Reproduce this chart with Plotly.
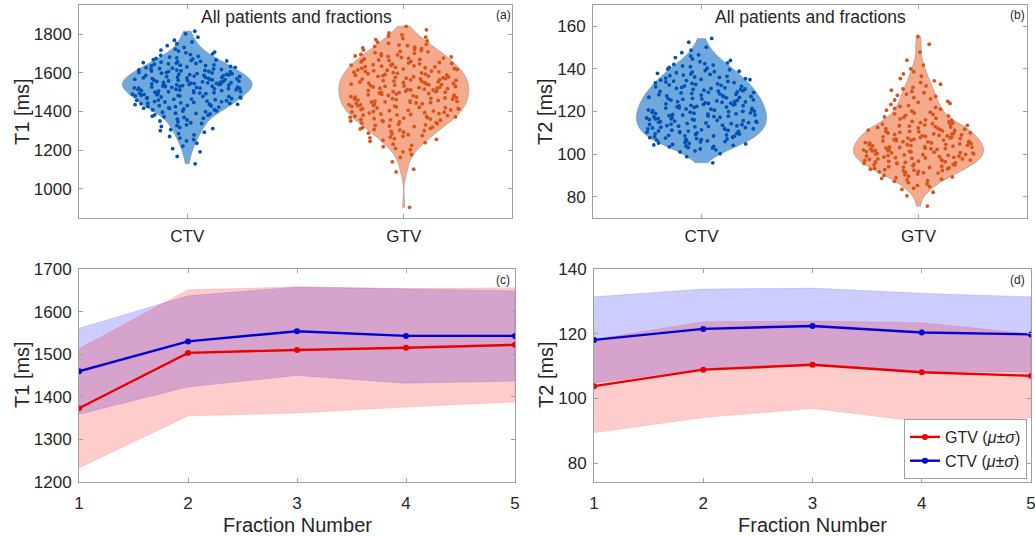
import plotly.graph_objects as go

W, H = 1035, 537

# ---------------- data ----------------
categories = ["CTV", "GTV"]

ctv_t1 = [1130, 1168,
          1192, 1208, 1221,
          1236, 1248, 1255, 1263, 1271,
          1279, 1286, 1293, 1301, 1306, 1312, 1318, 1323,
          1327, 1331, 1338, 1342, 1347, 1351, 1356, 1360, 1365, 1369, 1373,
          1376, 1381, 1383, 1388, 1390, 1391, 1396, 1399, 1402, 1403, 1408, 1409, 1413, 1416, 1417, 1420, 1423, 1425,
          1426, 1428, 1430, 1431, 1433, 1435, 1437, 1438, 1440, 1442, 1443, 1445, 1447, 1449, 1450, 1452, 1454, 1456,
          1457, 1459, 1461, 1463, 1464, 1466, 1468, 1470, 1472, 1474,
          1475, 1477, 1478, 1480, 1481, 1483, 1484, 1486, 1488, 1489, 1491, 1492, 1494, 1495, 1497, 1498, 1500, 1502,
          1503, 1505, 1506, 1508, 1509, 1511, 1512, 1514, 1515, 1517, 1518, 1519, 1520, 1521, 1522, 1523, 1524,
          1525, 1526, 1527, 1528, 1530, 1531, 1532, 1534, 1535, 1536, 1538, 1539, 1540, 1541, 1543, 1544, 1545, 1547,
          1548, 1549, 1550, 1552, 1553, 1554, 1555, 1557, 1558, 1559, 1561, 1562, 1563, 1565, 1566, 1567, 1569, 1570,
          1571, 1573, 1574,
          1575, 1577, 1578, 1580, 1581, 1583, 1584, 1586, 1587, 1589, 1590, 1592, 1593, 1595, 1596, 1598, 1599, 1601,
          1602, 1604, 1606, 1607, 1609, 1610, 1612, 1614, 1615, 1617, 1619, 1620, 1622, 1624,
          1626, 1628, 1630, 1633, 1635, 1637, 1639, 1641, 1644, 1646, 1648, 1650, 1652, 1655, 1657, 1659, 1661, 1664,
          1666, 1668, 1671, 1674,
          1677, 1681, 1685, 1690, 1694, 1698, 1703, 1707, 1712, 1717, 1722,
          1731, 1740, 1750, 1759, 1768,
          1784, 1801, 1815]

gtv_t1 = [905, 1088, 1102, 1140,
          1163, 1178, 1192,
          1203, 1210, 1218, 1225, 1231, 1239, 1246,
          1252, 1256, 1260, 1264, 1268, 1272, 1276, 1280, 1284, 1288, 1293, 1297,
          1301, 1304, 1307, 1310, 1313, 1316, 1319, 1322, 1325, 1328, 1331, 1334, 1337, 1340, 1343, 1346, 1349,
          1351, 1353, 1355, 1357, 1359, 1361, 1363, 1366, 1368, 1370, 1372, 1374, 1376, 1379, 1381, 1383, 1385, 1387,
          1389, 1392, 1394, 1396, 1398,
          1400, 1402, 1404, 1406, 1408, 1410, 1412, 1414, 1416, 1418, 1420, 1422, 1424, 1426, 1428, 1430, 1432, 1434,
          1436, 1438, 1440, 1442, 1444, 1446, 1447, 1449,
          1450, 1452, 1454, 1455, 1457, 1459, 1461, 1463, 1464, 1466, 1468, 1470, 1472, 1474, 1475, 1477, 1479, 1481,
          1483, 1485, 1487, 1489, 1491, 1493, 1495, 1497, 1499,
          1500, 1502, 1503, 1505, 1507, 1509, 1511, 1512, 1514, 1516, 1518, 1520, 1521, 1523, 1525, 1527, 1529, 1530,
          1532, 1534, 1536, 1538, 1539, 1541, 1543, 1545, 1547, 1549,
          1550, 1552, 1554, 1556, 1557, 1559, 1561, 1563, 1565, 1567, 1568, 1570, 1572, 1574, 1576, 1578, 1580, 1581,
          1583, 1585, 1587, 1589, 1591, 1593, 1595, 1597, 1599,
          1601, 1603, 1605, 1607, 1609, 1611, 1613, 1615, 1617, 1619, 1621, 1623, 1626, 1628, 1630, 1632, 1634, 1636,
          1638, 1640, 1642, 1644, 1646, 1648,
          1651, 1653, 1656, 1658, 1661, 1663, 1666, 1669, 1671, 1674, 1676, 1679, 1682, 1684, 1687, 1689, 1692, 1695,
          1698,
          1701, 1704, 1708, 1711, 1715, 1718, 1722, 1725, 1729, 1732, 1736, 1740, 1743, 1747,
          1752, 1758, 1765, 1771, 1777, 1784, 1790, 1796,
          1806, 1822, 1840]

ctv_t2 = [95.9, 98.8,
          100.2, 101.0, 101.5, 102.0, 102.4, 102.9,
          103.1, 103.4, 103.6, 103.8, 104.1, 104.3, 104.5, 104.8, 105.0, 105.2, 105.5, 105.7, 105.9, 106.2, 106.4,
          106.6, 106.8, 106.9,
          107.1, 107.3, 107.5, 107.7, 107.9, 108.1, 108.3, 108.5, 108.6, 108.8, 109.0, 109.2, 109.4, 109.5, 109.7,
          109.9, 110.1, 110.3, 110.5, 110.6, 110.8, 110.9,
          111.1, 111.2, 111.4, 111.6, 111.8, 111.9, 112.1, 112.3, 112.4, 112.6, 112.8, 112.9, 113.1, 113.3, 113.4,
          113.6, 113.8, 113.9, 114.1, 114.3, 114.4, 114.6, 114.8, 114.9,
          115.0, 115.2, 115.4, 115.5, 115.7, 115.8, 116.0, 116.2, 116.3, 116.5, 116.6, 116.8, 117.0, 117.1, 117.3,
          117.5, 117.6, 117.8, 117.9, 118.1, 118.3, 118.4, 118.6, 118.7, 118.9,
          119.1, 119.2, 119.4, 119.6, 119.7, 119.9, 120.1, 120.2, 120.4, 120.6, 120.7, 120.9, 121.1, 121.2, 121.4,
          121.6, 121.7, 121.9, 122.1, 122.2, 122.4, 122.6, 122.7, 122.9,
          123.1, 123.3, 123.4, 123.6, 123.8, 123.9, 124.1, 124.3, 124.5, 124.6, 124.8, 125.0, 125.2, 125.3, 125.5,
          125.7, 125.9, 126.0, 126.2, 126.4, 126.6, 126.7, 126.9,
          127.1, 127.3, 127.5, 127.7, 127.9, 128.1, 128.3, 128.5, 128.7, 128.9, 129.0, 129.2, 129.4, 129.6, 129.8,
          130.0, 130.2, 130.4, 130.6, 130.8, 130.9,
          131.1, 131.3, 131.6, 131.8, 132.0, 132.3, 132.5, 132.7, 133.0, 133.2, 133.4, 133.6, 133.9, 134.1, 134.3,
          134.5, 134.7, 134.9,
          135.1, 135.4, 135.7, 136.0, 136.2, 136.5, 136.8, 137.1, 137.4, 137.6, 137.9, 138.2, 138.5, 138.7, 138.9,
          139.2, 139.6, 139.9, 140.3, 140.7, 141.0, 141.4, 141.8, 142.1, 142.5, 142.8,
          143.4, 144.0, 144.7, 145.3, 146.0, 146.6,
          147.6, 148.8, 150.2,
          152.5, 154.3]

gtv_t2 = [75.6,
          80.4, 82.1,
          83.4, 84.0, 84.7, 85.3, 86.0, 86.6,
          87.2, 87.5, 87.9, 88.2, 88.6, 88.9, 89.3, 89.6, 90.0, 90.3, 90.7,
          91.1, 91.3, 91.5, 91.7, 91.9, 92.1, 92.3, 92.5, 92.7, 92.9, 93.1, 93.3, 93.5, 93.7, 93.9, 94.1, 94.3, 94.5,
          94.8,
          95.0, 95.2, 95.3, 95.5, 95.6, 95.8, 95.9, 96.1, 96.3, 96.4, 96.6, 96.7, 96.9, 97.0, 97.2, 97.4, 97.5, 97.7,
          97.8, 98.0, 98.2, 98.3, 98.5, 98.6, 98.8,
          99.0, 99.1, 99.3, 99.4, 99.6, 99.7, 99.9, 100.0, 100.2, 100.3, 100.4, 100.6, 100.7, 100.9, 101.0, 101.2,
          101.3, 101.5, 101.6, 101.7, 101.9, 102.0, 102.2, 102.3, 102.5, 102.6, 102.8, 102.9,
          103.1, 103.2, 103.4, 103.5, 103.7, 103.8, 104.0, 104.1, 104.3, 104.4, 104.6, 104.8, 104.9, 105.1, 105.2,
          105.4, 105.5, 105.7, 105.8, 106.0, 106.2, 106.3, 106.5, 106.6, 106.8, 106.9,
          107.1, 107.3, 107.5, 107.6, 107.8, 108.0, 108.1, 108.3, 108.5, 108.7, 108.8, 109.0, 109.2, 109.4, 109.5,
          109.7, 109.9, 110.0, 110.2, 110.4, 110.6, 110.7, 110.9,
          111.1, 111.3, 111.5, 111.7, 111.9, 112.1, 112.3, 112.5, 112.7, 112.9, 113.1, 113.3, 113.5, 113.7, 113.9,
          114.1, 114.3, 114.5, 114.8,
          115.1, 115.4, 115.8, 116.1, 116.5, 116.8, 117.2, 117.5, 117.9, 118.2, 118.6, 118.9,
          119.3, 119.7, 120.2, 120.6, 121.1, 121.5, 121.9, 122.4, 122.8,
          123.3, 123.8, 124.3, 124.8, 125.4, 125.9, 126.5,
          127.1, 127.6, 128.2, 128.8, 129.4, 130.0, 130.6,
          131.3, 132.0, 132.8, 133.6, 134.4,
          135.5, 136.6, 137.7, 138.7,
          140.0, 141.8,
          144.1,
          147.9,
          151.6, 155.2]

fractions = [1, 2, 3, 4, 5]
ctv_t1_mean = [1460, 1530, 1554, 1543, 1543]
ctv_t1_std = [101, 107, 104, 111, 106]
gtv_t1_mean = [1373, 1503, 1510, 1515, 1522]
gtv_t1_std = [140, 148, 148, 139, 134]
ctv_t2_mean = [118.1, 121.5, 122.4, 120.4, 119.8]
ctv_t2_std = [13.3, 12.3, 11.7, 12.1, 11.6]
gtv_t2_mean = [103.8, 108.9, 110.4, 108.1, 107.0]
gtv_t2_std = [14.4, 14.8, 13.5, 15.3, 13.0]

# ---------------- styles ----------------
FONT = "Arial, Liberation Sans, Helvetica, sans-serif"
TXT = "#262626"
AXC = "#a0a0a0"
CTV_FILL = "rgb(111,168,220)"
CTV_DOT = "rgb(0,82,180)"
GTV_FILL = "rgb(245,170,140)"
GTV_DOT = "rgb(217,83,25)"
RED = "rgb(235,0,0)"
BLUE = "rgb(0,0,210)"

fig = go.Figure()


def add_violin(vals, name, fill, dot, xa, ya, bw=None):
    fig.add_trace(go.Violin(
        y=vals, x0=name, name=name, xaxis=xa, yaxis=ya,
        points="all", pointpos=0, jitter=0.85, spanmode="hard",
        width=0.6, scalemode="width", fillcolor=fill, bandwidth=bw,
        line=dict(color="rgba(130,130,130,0.8)", width=0.6),
        marker=dict(color=dot, size=3.8, line=dict(width=0)),
        box_visible=False, meanline_visible=False, showlegend=False,
        hoveron="points"))


add_violin(ctv_t1, categories[0], CTV_FILL, CTV_DOT, "x", "y", 36)
add_violin(gtv_t1, categories[1], GTV_FILL, GTV_DOT, "x", "y", 42)
add_violin(ctv_t2, categories[0], CTV_FILL, CTV_DOT, "x2", "y2", 4.2)
add_violin(gtv_t2, categories[1], GTV_FILL, GTV_DOT, "x2", "y2", 3.3)


def add_band(mean, std, color, xa, ya):
    up = [m + s for m, s in zip(mean, std)]
    lo = [m - s for m, s in zip(mean, std)]
    fig.add_trace(go.Scatter(
        x=fractions + fractions[::-1], y=up + lo[::-1], fill="toself",
        fillcolor=color, line=dict(width=0.6, color=color), mode="lines",
        xaxis=xa, yaxis=ya, showlegend=False, hoverinfo="skip"))


def add_mean(mean, color, name, xa, ya, show):
    fig.add_trace(go.Scatter(
        x=fractions, y=mean, mode="lines+markers", name=name,
        line=dict(color=color, width=2.4), marker=dict(color=color, size=6),
        xaxis=xa, yaxis=ya, showlegend=show))


add_band(ctv_t1_mean, ctv_t1_std, "rgba(0,0,255,0.2)", "x3", "y3")
add_band(gtv_t1_mean, gtv_t1_std, "rgba(255,0,0,0.2)", "x3", "y3")
add_band(ctv_t2_mean, ctv_t2_std, "rgba(0,0,255,0.2)", "x4", "y4")
add_band(gtv_t2_mean, gtv_t2_std, "rgba(255,0,0,0.2)", "x4", "y4")

add_mean(gtv_t1_mean, RED, "GTV", "x3", "y3", False)
add_mean(ctv_t1_mean, BLUE, "CTV", "x3", "y3", False)
add_mean(gtv_t2_mean, RED, "GTV (<i>μ</i>±<i>σ</i>)", "x4", "y4", True)
add_mean(ctv_t2_mean, BLUE, "CTV (<i>μ</i>±<i>σ</i>)", "x4", "y4", True)


def dom_x(a, b):
    return [a / W, b / W]


def dom_y(top, bot):
    return [1 - bot / H, 1 - top / H]


axbase = dict(showline=True, linecolor=AXC, linewidth=1, mirror="ticks",
              ticks="inside", ticklen=4, tickcolor=AXC, showgrid=False,
              zeroline=False, automargin=False, ticklabeloverflow="allow",
              tickfont=dict(size=17, color=TXT, family=FONT))

fig.update_layout(
    template="none",
    width=W, height=H, margin=dict(l=0, r=0, t=0, b=0, pad=0, autoexpand=False),
    paper_bgcolor="white", plot_bgcolor="white",
    font=dict(family=FONT, color=TXT),
    violinmode="overlay",
    xaxis=dict(axbase, domain=dom_x(79, 512), anchor="y", type="category",
               categoryorder="array", categoryarray=categories, range=[-0.5, 1.5],
               ticklabelstandoff=3),
    yaxis=dict(axbase, domain=dom_y(5, 218), anchor="x", range=[850, 1950],
               tickvals=[1000, 1200, 1400, 1600, 1800], ticklabelstandoff=3),
    xaxis2=dict(axbase, domain=dom_x(593, 1027), anchor="y2", type="category",
                categoryorder="array", categoryarray=categories, range=[-0.5, 1.5],
                ticklabelstandoff=3),
    yaxis2=dict(axbase, domain=dom_y(5, 218), anchor="x2", range=[70, 170],
                tickvals=[80, 100, 120, 140, 160], ticklabelstandoff=3),
    xaxis3=dict(axbase, domain=dom_x(79, 515), anchor="y3", range=[1, 5],
                tickvals=fractions, ticklabelstandoff=6),
    yaxis3=dict(axbase, domain=dom_y(269, 482), anchor="x3", range=[1200, 1700],
                tickvals=[1200, 1300, 1400, 1500, 1600, 1700], ticklabelstandoff=3),
    xaxis4=dict(axbase, domain=dom_x(594, 1031), anchor="y4", range=[1, 5],
                tickvals=fractions, ticklabelstandoff=6),
    yaxis4=dict(axbase, domain=dom_y(269, 482), anchor="x4", range=[74.2, 140],
                tickvals=[80, 100, 120, 140], ticklabelstandoff=3),
    legend=dict(x=1027 / W, y=1 - 479 / H, xanchor="right", yanchor="bottom",
                bgcolor="white", bordercolor="#a0a0a0", borderwidth=1,
                font=dict(size=16, color=TXT, family=FONT), itemwidth=30,
                tracegroupgap=0),
)

ann = []


def text(x, y, s, size, angle=0):
    ann.append(dict(x=x / W, y=1 - y / H, xref="paper", yref="paper", text=s,
                    showarrow=False, font=dict(size=size, color=TXT, family=FONT),
                    textangle=angle, xanchor="center", yanchor="middle"))


text(296, 17, "All patients and fractions", 17.5)
text(810, 17, "All patients and fractions", 17.5)
text(503, 15, "(a)", 12)
text(1017, 15, "(b)", 12)
text(503, 280, "(c)", 12)
text(1017, 280, "(d)", 12)
text(22, 112, "T1 [ms]", 20, -90)
text(545, 112, "T2 [ms]", 20, -90)
text(22, 375, "T1 [ms]", 20, -90)
text(546, 375, "T2 [ms]", 20, -90)
text(297, 525, "Fraction Number", 20)
text(812, 525, "Fraction Number", 20)
fig.update_layout(annotations=ann)

fig.write_html("out.html")
